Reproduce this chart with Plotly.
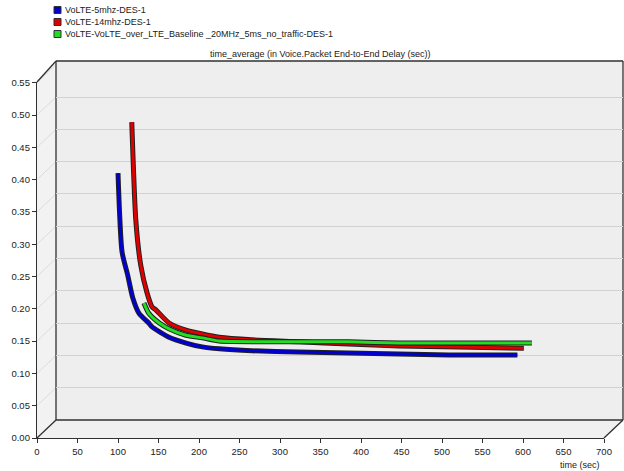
import plotly.graph_objects as go

# ---------------- data ----------------
series_names = [
    "VoLTE-5mhz-DES-1",
    "VoLTE-14mhz-DES-1",
    "VoLTE-VoLTE_over_LTE_Baseline _20MHz_5ms_no_traffic-DES-1",
]
series_colors = ["#0000d0", "#e00000", "#22dd22"]

blue_t = [100, 105, 112, 118, 126, 138, 142, 163, 184, 204, 225, 265, 323, 385, 447, 509, 593]
blue_v = [0.410, 0.288, 0.252, 0.218, 0.193, 0.178, 0.172, 0.156, 0.147, 0.141, 0.138, 0.135,
          0.133, 0.1316, 0.130, 0.1285, 0.1285]

red_t = [117, 122, 128, 136, 142, 147, 163, 184, 204, 225, 265, 323, 385, 447, 521, 601]
red_v = [0.489, 0.337, 0.268, 0.224, 0.203, 0.198, 0.178, 0.167, 0.161, 0.156, 0.152, 0.149,
         0.1455, 0.1424, 0.141, 0.139]

green_t = [132, 138, 151, 163, 184, 204, 225, 274, 323, 385, 447, 521, 611]
green_v = [0.209, 0.193, 0.178, 0.169, 0.159, 0.155, 0.150, 0.149, 0.149, 0.149, 0.147, 0.147, 0.147]

x_ticks = list(range(0, 701, 50))
y_ticks = [round(i * 0.05, 2) for i in range(12)]

title_text = "time_average (in Voice.Packet End-to-End Delay (sec))"
x_title = "time (sec)"

# ---------------- geometry helpers ----------------
W, H = 624, 471
def px(x):
    return x / W
def py(y):
    return 1 - y / H

FX0, FX1 = 37, 604      # front x extent (pixels)
FY0, FY1 = 438, 82      # front y: bottom, top
DX, DY = 19, -18        # depth offset
Y_TOP = (FY0 - FY1) / 646.0

font = "Liberation Sans, Arial, sans-serif"

fig = go.Figure()

fig.add_trace(go.Scatter(x=[], y=[], xaxis="x", yaxis="y", showlegend=False))
fig.add_trace(go.Scatter(x=[], y=[], xaxis="x2", yaxis="y2", showlegend=False))

for t, v, c in [(blue_t, blue_v, series_colors[0]),
                (red_t, red_v, series_colors[1]),
                (green_t, green_v, series_colors[2])]:
    fig.add_trace(go.Scatter(x=t, y=v, xaxis="x3", yaxis="y3", mode="lines",
                             line=dict(color="#202020", width=5, shape="spline", smoothing=0.6),
                             showlegend=False, hoverinfo="skip"))
    fig.add_trace(go.Scatter(x=t, y=v, xaxis="x3", yaxis="y3", mode="lines",
                             line=dict(color=c, width=3, shape="spline", smoothing=0.6),
                             showlegend=False))

shapes = []
shapes.append(dict(type="rect", xref="paper", yref="paper",
                   x0=px(FX0 + DX), x1=px(FX1 + DX), y0=py(FY0 + DY), y1=py(FY1 + DY - 3),
                   fillcolor="#eeeeee", line=dict(width=0), layer="below"))
shapes.append(dict(type="path", xref="paper", yref="paper",
                   path=f"M {px(FX0)},{py(FY1)} L {px(FX0+DX)},{py(FY1+DY-3)} L {px(FX0+DX)},{py(FY0+DY)} L {px(FX0)},{py(FY0)} Z",
                   fillcolor="#f2f2f2", line=dict(width=0), layer="below"))
shapes.append(dict(type="path", xref="paper", yref="paper",
                   path=f"M {px(FX0)},{py(FY0)} L {px(FX0+DX)},{py(FY0+DY)} L {px(FX1+DX)},{py(FY0+DY)} L {px(FX1)},{py(FY0)} Z",
                   fillcolor="#f0f0f0", line=dict(width=0), layer="below"))
for v in y_ticks[1:]:
    yy = FY0 - v * 646
    shapes.append(dict(type="line", xref="paper", yref="paper",
                       x0=px(FX0), y0=py(yy), x1=px(FX0 + DX), y1=py(yy + DY),
                       line=dict(color="#dcdcdc", width=1), layer="below"))
edge = dict(color="#303030", width=1.3)
frame_lines = [
    (FX0 + DX, FY1 + DY - 3, FX0 + DX, FY0 + DY),
    (FX0 + DX, FY1 + DY - 3, FX1 + DX, FY1 + DY - 3),
    (FX0 + DX, FY0 + DY, FX1 + DX, FY0 + DY),
    (FX1 + DX, FY1 + DY - 3, FX1 + DX, FY0 + DY),
    (FX0, FY1, FX0 + DX, FY1 + DY - 3),
    (FX0, FY0, FX0 + DX, FY0 + DY),
    (FX1, FY0, FX1 + DX, FY0 + DY),
]
for x0, y0, x1, y1 in frame_lines:
    shapes.append(dict(type="line", xref="paper", yref="paper",
                       x0=px(x0), y0=py(y0), x1=px(x1), y1=py(y1),
                       line=edge, layer="below"))

annotations = []
for i, (name, col) in enumerate(zip(series_names, series_colors)):
    yc = 10 + 12 * i
    shapes.append(dict(type="rect", xref="paper", yref="paper",
                       x0=px(54), x1=px(61), y0=py(yc + 3.5), y1=py(yc - 3.5),
                       fillcolor=col, line=dict(color="#303030", width=1)))
    annotations.append(dict(text=name, xref="paper", yref="paper", x=px(63), y=py(yc),
                            xanchor="left", yanchor="middle", showarrow=False,
                            font=dict(family=font, size=9, color="#222222")))
annotations.append(dict(text=title_text, xref="paper", yref="paper", x=px(320), y=py(54),
                        xanchor="center", yanchor="middle", showarrow=False,
                        font=dict(family=font, size=9, color="#222222")))
annotations.append(dict(text=x_title, xref="paper", yref="paper", x=px(580), y=py(465),
                        xanchor="center", yanchor="middle", showarrow=False,
                        font=dict(family=font, size=9, color="#222222")))

tickfont = dict(family=font, size=9.5, color="#222222")

fig.update_layout(
    width=W, height=H,
    margin=dict(l=0, r=0, t=0, b=0, autoexpand=False),
    paper_bgcolor="white", plot_bgcolor="rgba(0,0,0,0)",
    showlegend=False,
    shapes=shapes, annotations=annotations,
    xaxis=dict(domain=[px(FX0), px(FX1)], range=[0, 700], anchor="y", automargin=False,
               tickvals=x_ticks, ticks="outside", ticklen=4, tickcolor="#303030",
               showline=True, linecolor="#303030", linewidth=1.3, showgrid=False,
               zeroline=False, tickfont=tickfont, fixedrange=True),
    yaxis=dict(domain=[py(FY0), py(FY1)], range=[0, Y_TOP], anchor="x", automargin=False,
               tickvals=y_ticks, tickformat=".2f", ticks="outside", ticklen=4,
               tickcolor="#303030", showline=True, linecolor="#303030", linewidth=1.3,
               showgrid=False, zeroline=False, tickfont=tickfont, fixedrange=True),
    xaxis2=dict(domain=[px(FX0 + DX), px(FX1 + DX)], range=[0, 700], anchor="y2", automargin=False,
                showgrid=False, showticklabels=False, ticks="", zeroline=False, showline=False),
    yaxis2=dict(domain=[py(FY0 + DY), py(FY1 + DY)], range=[0, Y_TOP], anchor="x2", automargin=False,
                tickvals=y_ticks[1:], showgrid=True, gridcolor="#d2d2d2", gridwidth=1,
                showticklabels=False, ticks="", zeroline=False, showline=False),
    xaxis3=dict(domain=[px(FX0), px(FX1)], range=[0, 700], anchor="y3", visible=False, automargin=False),
    yaxis3=dict(domain=[py(FY0), py(FY1)], range=[0, Y_TOP], anchor="x3", visible=False, automargin=False),
)

fig.write_html("out.html", config={"displayModeBar": False},
               post_script="document.body.style.margin='0px';document.body.style.overflow='hidden';")
